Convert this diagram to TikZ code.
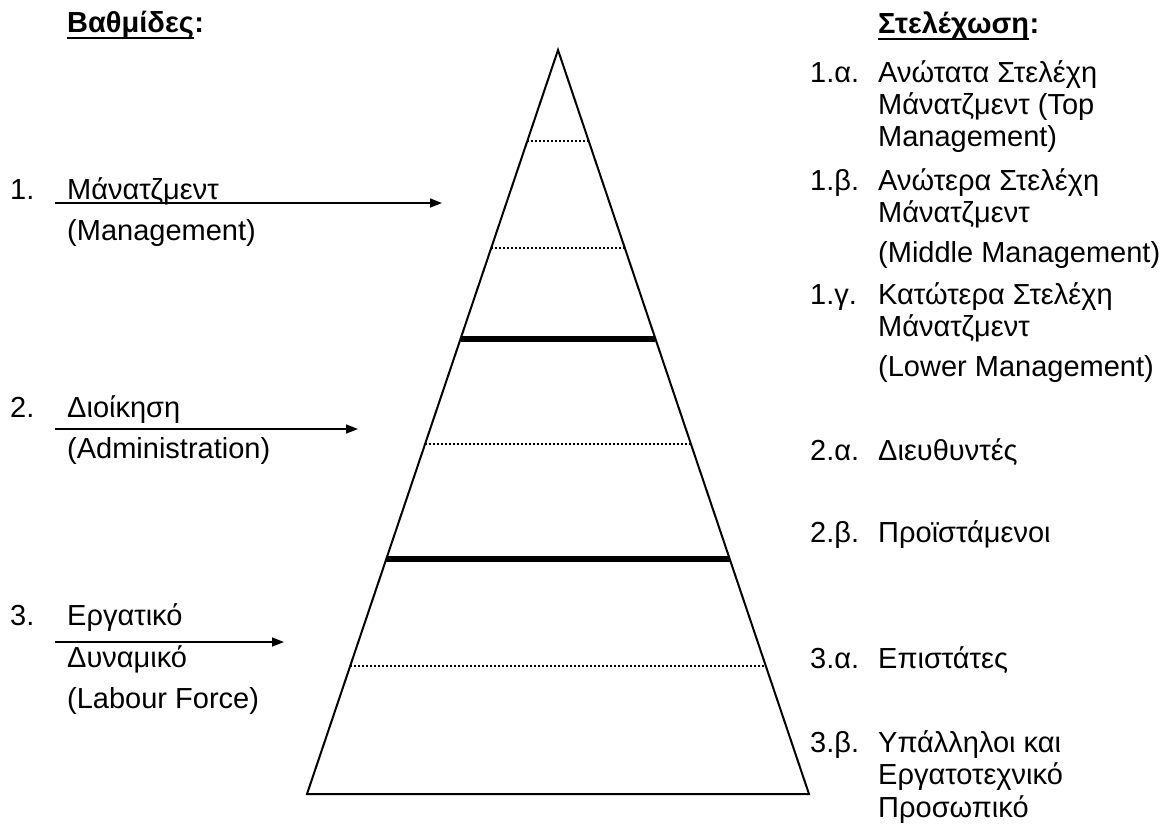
\documentclass[tikz,border=0pt]{standalone}
\usepackage{fontspec}
\setmainfont{Liberation Sans}
\usetikzlibrary{arrows.meta,calc}
\begin{document}
\begin{tikzpicture}[x=1pt,y=-1pt,
  txt/.style={anchor=base west,inner sep=0pt,font=\fontsize{29}{34}\selectfont},
  headtxt/.style={txt,font=\fontsize{29}{34}\selectfont\bfseries},
  edge/.style={line width=2pt,line join=miter},
  dotline/.style={line width=2pt,dash pattern=on 2pt off 2pt},
  boldline/.style={line width=5.5pt},
  pointer/.style={line width=1.6pt,-{Triangle[length=12pt,width=9pt]}},
  uline/.style={line width=2.8pt}
]
\useasboundingbox (0,0) rectangle (1173,823);

% pyramid outline
\coordinate (apex) at (558,50);
\coordinate (bl) at (307,794);
\coordinate (br) at (809,794);
\draw[edge] (apex) -- (bl) -- (br) -- cycle;

% level separators (fraction of the way down from the apex)
\draw[dotline]  ($(apex)!0.1223!(bl)$) -- ($(apex)!0.1223!(br)$);
\draw[dotline]  ($(apex)!0.2661!(bl)$) -- ($(apex)!0.2661!(br)$);
\draw[boldline] ($(apex)!0.3884!(bl)$) -- ($(apex)!0.3884!(br)$);
\draw[dotline]  ($(apex)!0.5296!(bl)$) -- ($(apex)!0.5296!(br)$);
\draw[boldline] ($(apex)!0.6841!(bl)$) -- ($(apex)!0.6841!(br)$);
\draw[dotline]  ($(apex)!0.8280!(bl)$) -- ($(apex)!0.8280!(br)$);

% left column: levels
\node[headtxt] (lhead) at (67,32) {Βαθμίδες};
\node[headtxt,anchor=base west] (lcolon) at (lhead.base east) {:};
\draw[uline] ($(lhead.base west)+(0,6)$) -- ($(lhead.base east)+(0,6)$);

\node[txt] (n1) at (10,199) {1.};
\node[txt] (l1a) at (67,199) {Μάνατζμεντ};
\node[txt] (l1b) at (67,240) {(Management)};
\node[txt] (n2) at (10,417) {2.};
\node[txt] (l2a) at (67,417) {Διοίκηση};
\node[txt] (l2b) at (67,458) {(Administration)};
\node[txt] (n3) at (10,625) {3.};
\node[txt] (l3a) at (67,625) {Εργατικό};
\node[txt] (l3b) at (67,667) {Δυναμικό};
\node[txt] (l3c) at (67,708) {(Labour Force)};

\coordinate (a1s) at (55,203);  \coordinate (a1e) at (442,203);
\coordinate (a2s) at (55,429);  \coordinate (a2e) at (358,429);
\coordinate (a3s) at (55,642);  \coordinate (a3e) at (284,642);
\draw[pointer] (a1s) -- (a1e);
\draw[pointer] (a2s) -- (a2e);
\draw[pointer] (a3s) -- (a3e);

% right column: staffing
\node[headtxt] (rhead) at (878,33) {Στελέχωση};
\node[headtxt,anchor=base west] (rcolon) at (rhead.base east) {:};
\draw[uline] ($(rhead.base west)+(0,6)$) -- ($(rhead.base east)+(0,6)$);

\node[txt] (r1an) at (810,82)  {1.α.};
\node[txt] (r1a1) at (878,82)  {Ανώτατα Στελέχη};
\node[txt] (r1a2) at (878,114) {Μάνατζμεντ (Top};
\node[txt] (r1a3) at (878,146) {Management)};
\node[txt] (r1bn) at (810,190) {1.β.};
\node[txt] (r1b1) at (878,190) {Ανώτερα Στελέχη};
\node[txt] (r1b2) at (878,222) {Μάνατζμεντ};
\node[txt] (r1b3) at (878,262) {(Middle Management)};
\node[txt] (r1gn) at (810,304) {1.γ.};
\node[txt] (r1g1) at (878,304) {Κατώτερα Στελέχη};
\node[txt] (r1g2) at (878,336) {Μάνατζμεντ};
\node[txt] (r1g3) at (878,376) {(Lower Management)};
\node[txt] (r2an) at (810,460) {2.α.};
\node[txt] (r2a1) at (878,460) {Διευθυντές};
\node[txt] (r2bn) at (810,542) {2.β.};
\node[txt] (r2b1) at (878,542) {Προϊστάμενοι};
\node[txt] (r3an) at (810,668) {3.α.};
\node[txt] (r3a1) at (878,668) {Επιστάτες};
\node[txt] (r3bn) at (810,752) {3.β.};
\node[txt] (r3b1) at (878,752) {Υπάλληλοι και};
\node[txt] (r3b2) at (878,784) {Εργατοτεχνικό};
\node[txt] (r3b3) at (878,817) {Προσωπικό};
\end{tikzpicture}
\end{document}
